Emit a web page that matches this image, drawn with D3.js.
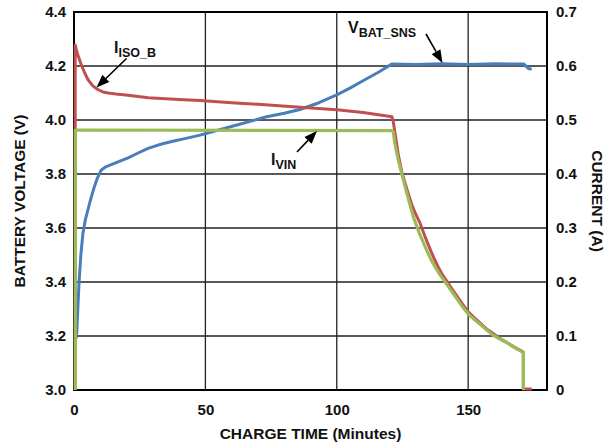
<!DOCTYPE html>
<html>
<head>
  <meta charset="utf-8">
  <title>Charge profile</title>
  <script src="https://d3js.org/d3.v7.min.js"></script>
  <style>
    body { margin: 0; background: #fff; }
    svg text { font-family: "Liberation Sans", Arial, Helvetica, sans-serif; font-weight: bold; fill: #111; }
  </style>
</head>
<body>
<script>
// tick values
var timeTicks = [0, 50, 100, 150];
var voltTicks = [3.0, 3.2, 3.4, 3.6, 3.8, 4.0, 4.2, 4.4];
var currTicks = [0, 0.1, 0.2, 0.3, 0.4, 0.5, 0.6, 0.7];

// VBAT_SNS (V) vs charge time (minutes)
var vbatTime = [0.8, 1.1, 1.5, 1.9, 2.6, 3.4, 4.3, 5.3, 6.3, 7.5, 8.9, 10.4, 12, 14.2, 17, 20.6, 24, 28.2, 33, 38, 43, 48, 54, 60.6, 67, 73.3, 80, 86, 93, 100, 105, 110.5, 116, 120.9, 130, 140, 150, 160, 171.2, 172.9, 174.2];
var vbatVolt = [3.19, 3.22, 3.31, 3.395, 3.50, 3.58, 3.63, 3.667, 3.705, 3.745, 3.785, 3.815, 3.826, 3.835, 3.846, 3.86, 3.876, 3.895, 3.91, 3.922, 3.933, 3.944, 3.96, 3.978, 3.995, 4.012, 4.025, 4.039, 4.063, 4.093, 4.118, 4.148, 4.178, 4.207, 4.206, 4.208, 4.206, 4.208, 4.207, 4.191, 4.188];

// IISO_B (A)
var isoTime = [0.45, 0.45, 0.7, 1, 1.5, 2, 2.8, 4, 5.3, 6.2, 7, 8, 9.2, 11, 13, 16, 20.6, 28.2, 40, 48, 60, 70, 86, 100, 110, 121.0, 121.5, 122.5, 123.5, 124.7, 126.0, 127.3, 128.5, 130, 131.7, 133.5, 135.5, 137, 138.5, 140, 141.8, 144, 146, 148, 150, 152.5, 155, 157.3, 159.6, 162.3, 165, 167.7, 170.4, 171.0, 171.0, 174.2];
var isoCurr = [0, 0.639, 0.634, 0.628, 0.62, 0.613, 0.602, 0.588, 0.575, 0.569, 0.564, 0.56, 0.556, 0.552, 0.55, 0.548, 0.546, 0.541, 0.538, 0.536, 0.532, 0.529, 0.5235, 0.519, 0.514, 0.506, 0.497, 0.465, 0.433, 0.405, 0.383, 0.362, 0.344, 0.326, 0.309, 0.285, 0.261, 0.244, 0.229, 0.215, 0.202, 0.186, 0.172, 0.158, 0.145, 0.133, 0.122, 0.112, 0.104, 0.095, 0.087, 0.079, 0.072, 0.070, 0.002, 0.002];

// IVIN (A)
var vinTime = [0.5, 0.5, 121.0, 121.5, 122.1, 123.3, 124.7, 126.9, 129.1, 131.6, 134.2, 136, 138, 139.9, 141.8, 144, 146, 148, 150, 152.5, 155, 157.3, 159.6, 162.3, 165, 167.7, 170.4, 171.0, 171.0];
var vinCurr = [0, 0.4815, 0.4805, 0.478, 0.457, 0.428, 0.401, 0.36, 0.321, 0.288, 0.259, 0.24, 0.223, 0.209, 0.196, 0.181, 0.167, 0.153, 0.141, 0.13, 0.12, 0.11, 0.101, 0.094, 0.087, 0.078, 0.071, 0.069, 0.0];

var W = 615, H = 448;
var pL = 74, pR = 547, pT = 12, pB = 390;

var svg = d3.select(document.body).append("svg")
  .attr("width", W).attr("height", H);

var x = d3.scaleLinear().domain([0, 180]).range([pL, pR]);
var yV = d3.scaleLinear().domain([3.0, 4.4]).range([pB, pT]);
var yI = d3.scaleLinear().domain([0, 0.7]).range([pB, pT]);

// grid
var grid = svg.append("g").attr("stroke", "#222").attr("stroke-width", 1.3);
grid.selectAll("line.h").data(voltTicks.slice(1, -1)).enter().append("line")
  .attr("x1", pL).attr("x2", pR)
  .attr("y1", d => yV(d)).attr("y2", d => yV(d));
grid.selectAll("line.v").data(timeTicks.slice(1)).enter().append("line")
  .attr("y1", pT).attr("y2", pB)
  .attr("x1", d => x(d)).attr("x2", d => x(d));

// frame
svg.append("rect").attr("x", pL).attr("y", pT)
  .attr("width", pR - pL).attr("height", pB - pT)
  .attr("fill", "none").attr("stroke", "#000").attr("stroke-width", 2);

// axes (labels only, no tick marks)
var axL = svg.append("g").attr("transform", "translate(" + pL + ",0)")
  .call(d3.axisLeft(yV).tickValues(voltTicks).tickFormat(d3.format(".1f")).tickSize(0).tickPadding(8));
var axR = svg.append("g").attr("transform", "translate(" + pR + ",0)")
  .call(d3.axisRight(yI).tickValues(currTicks).tickFormat(d => d === 0 ? "0" : d3.format(".1f")(d)).tickSize(0).tickPadding(9));
var axB = svg.append("g").attr("transform", "translate(0," + pB + ")")
  .call(d3.axisBottom(x).tickValues(timeTicks).tickSize(0).tickPadding(14));
[axL, axR, axB].forEach(function (a) {
  a.select(".domain").remove();
  a.selectAll("text").attr("font-size", 15).attr("fill", "#111")
    .style("font-family", "'Liberation Sans', Arial, sans-serif").style("font-weight", "bold");
});

// series
var lineV = d3.line().x(d => x(d[0])).y(d => yV(d[1]));
var lineI = d3.line().x(d => x(d[0])).y(d => yI(d[1]));

svg.append("path").datum(d3.zip(vbatTime, vbatVolt))
  .attr("d", lineV).attr("fill", "none").attr("stroke", "#4a7ebb").attr("stroke-width", 3).attr("stroke-linejoin", "round");
svg.append("path").datum(d3.zip(isoTime, isoCurr))
  .attr("d", lineI).attr("fill", "none").attr("stroke", "#c0504d").attr("stroke-width", 3).attr("stroke-linejoin", "round");
svg.append("path").datum(d3.zip(vinTime, vinCurr))
  .attr("d", lineI).attr("fill", "none").attr("stroke", "#9bbb59").attr("stroke-width", 3.2).attr("stroke-linejoin", "round");

// axis titles
svg.append("text").attr("x", (pL + pR) / 2).attr("y", 439)
  .attr("text-anchor", "middle").attr("font-size", 15.5).text("CHARGE TIME (Minutes)");
svg.append("text").attr("transform", "translate(25," + (pT + pB) / 2 + ") rotate(-90)")
  .attr("text-anchor", "middle").attr("font-size", 15.5).text("BATTERY VOLTAGE (V)");
svg.append("text").attr("transform", "translate(592," + (pT + pB) / 2 + ") rotate(90)")
  .attr("text-anchor", "middle").attr("font-size", 15.5).text("CURRENT (A)");

// annotations
function label(px, py, main, sub) {
  var t = svg.append("text").attr("x", px).attr("y", py).attr("font-size", 16);
  t.append("tspan").text(main);
  t.append("tspan").attr("font-size", 12.5).attr("dy", 3.5).text(sub);
}
label(114, 53, "I", "ISO_B");
label(348, 33, "V", "BAT_SNS");
label(271, 165, "I", "VIN");

function arrow(x1, y1, x2, y2) {
  var a = Math.atan2(y2 - y1, x2 - x1), L = 13, w = 5;
  var bx = x2 - L * Math.cos(a), by = y2 - L * Math.sin(a);
  svg.append("line").attr("x1", x1).attr("y1", y1).attr("x2", bx).attr("y2", by)
    .attr("stroke", "#000").attr("stroke-width", 1.6);
  var px = -Math.sin(a) * w, py = Math.cos(a) * w;
  svg.append("path")
    .attr("d", "M" + x2 + "," + y2 + "L" + (bx + px) + "," + (by + py) + "L" + (bx - px) + "," + (by - py) + "Z")
    .attr("fill", "#000");
}
arrow(126.5, 58.5, 96.5, 87.5);
arrow(426, 34, 442.5, 63);
arrow(297, 152, 317, 131);
</script>
</body>
</html>
